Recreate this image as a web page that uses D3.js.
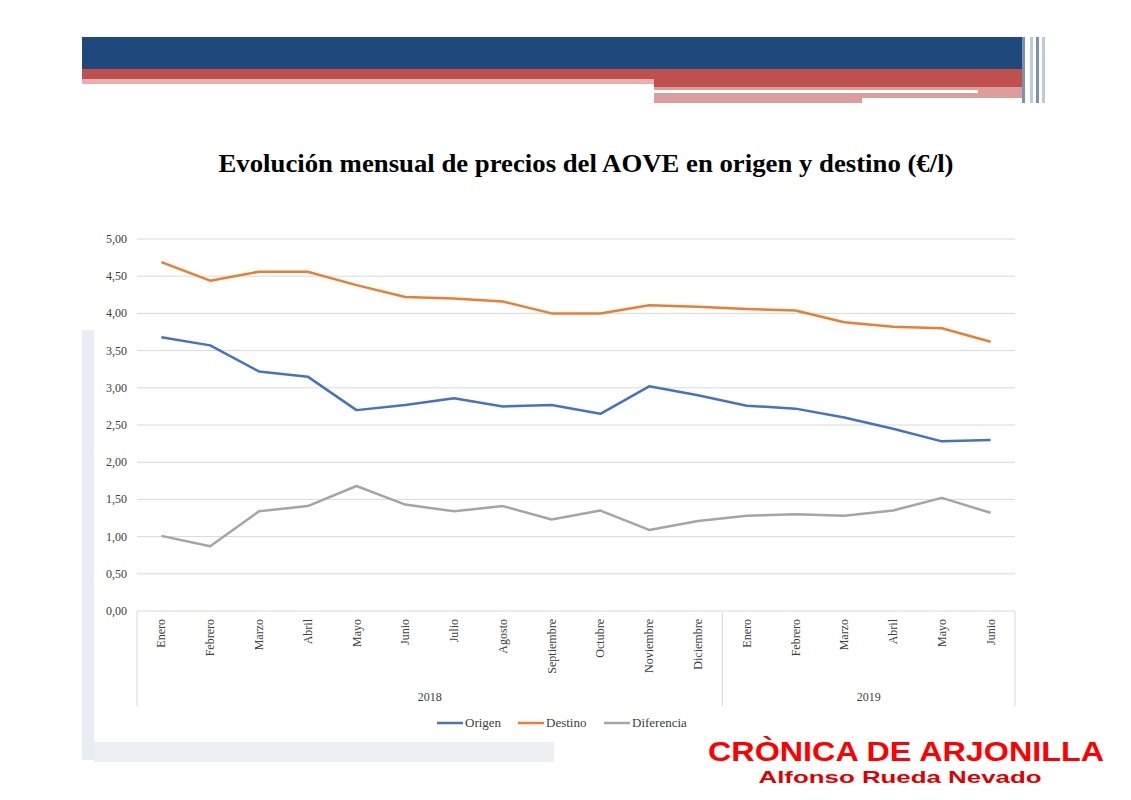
<!DOCTYPE html>
<html><head><meta charset="utf-8">
<script src="https://cdn.jsdelivr.net/npm/d3@7"></script>
<style>body{margin:0;background:#fff}svg{display:block}</style>
</head><body>
<svg id="chart" width="1131" height="800"></svg>
<script>
var months = ['Enero','Febrero','Marzo','Abril','Mayo','Junio','Julio','Agosto','Septiembre','Octubre','Noviembre','Diciembre','Enero','Febrero','Marzo','Abril','Mayo','Junio'];
var years = [{name: '2018', n: 12}, {name: '2019', n: 6}];
var origen = [3.68,3.57,3.22,3.15,2.70,2.77,2.86,2.75,2.77,2.65,3.02,2.90,2.76,2.72,2.60,2.45,2.28,2.30];
var destino = [4.69,4.44,4.56,4.56,4.38,4.22,4.20,4.16,4.00,4.00,4.11,4.09,4.06,4.04,3.88,3.82,3.80,3.62];
var diferencia = [1.01,0.87,1.34,1.41,1.68,1.43,1.34,1.41,1.23,1.35,1.09,1.21,1.28,1.30,1.28,1.35,1.52,1.32];
var yTicks = [0,0.5,1,1.5,2,2.5,3,3.5,4,4.5,5];

var series = [
    {name: 'Origen', values: origen, color: '#4472c4'},
    {name: 'Destino', values: destino, color: '#ed7d31'},
    {name: 'Diferencia', values: diferencia, color: '#a5a5a5'}
];

var svg = d3.select('#chart');
var serif = '"Liberation Serif", "Times New Roman", serif';

// header banner
svg.append('rect').attr('x', 82).attr('y', 37).attr('width', 940).attr('height', 32).attr('fill', '#1f497d');
svg.append('rect').attr('x', 82).attr('y', 69).attr('width', 940).attr('height', 10).attr('fill', '#c0504d');
svg.append('rect').attr('x', 82).attr('y', 79).attr('width', 572).attr('height', 5).attr('fill', '#e6b0b0');
svg.append('rect').attr('x', 654).attr('y', 79).attr('width', 368).attr('height', 8).attr('fill', '#c0504d');
svg.append('rect').attr('x', 654).attr('y', 87).attr('width', 368).attr('height', 16).attr('fill', '#dc9e9d');
svg.append('rect').attr('x', 654).attr('y', 90).attr('width', 324).attr('height', 3).attr('fill', '#fff');
svg.append('rect').attr('x', 862).attr('y', 98).attr('width', 160).attr('height', 6).attr('fill', '#fff');
[1022, 1030, 1036, 1042].forEach(function(x, i) {
    svg.append('rect').attr('x', x).attr('y', 37).attr('width', 3).attr('height', 66)
        .attr('fill', i % 2 ? '#8ea6c8' : '#1f497d').attr('opacity', 0.6);
});
// faint watermark
svg.append('rect').attr('x', 82).attr('y', 330).attr('width', 12).attr('height', 430).attr('fill', '#e8edf4');
svg.append('rect').attr('x', 94).attr('y', 742).attr('width', 460).attr('height', 20).attr('fill', '#edf1f6');

svg.append('text').attr('x', 586).attr('y', 172).attr('text-anchor', 'middle')
    .style('font-family', serif).style('font-size', '25px').style('font-weight', 'bold')
    .attr('textLength', 735).attr('lengthAdjust', 'spacingAndGlyphs')
    .text('Evolución mensual de precios del AOVE en origen y destino (€/l)');

var pLeft = 137, pRight = 1015, pTop = 239, pBottom = 611;
var x = d3.scaleBand().domain(d3.range(months.length)).range([pLeft, pRight]);
var y = d3.scaleLinear().domain([0, 5]).range([pBottom, pTop]);
var fmt = function(v) { return d3.format('.2f')(v).replace('.', ','); };

var g = svg.append('g');
g.selectAll('line.grid').data(yTicks).enter().append('line')
    .attr('x1', pLeft).attr('x2', pRight)
    .attr('y1', function(d) { return y(d); }).attr('y2', function(d) { return y(d); })
    .attr('stroke', '#d9d9d9').attr('stroke-width', 1);
g.selectAll('text.yt').data(yTicks).enter().append('text')
    .attr('x', 127).attr('y', function(d) { return y(d) + 4; })
    .attr('text-anchor', 'end').style('font-family', serif).style('font-size', '12px').attr('fill', '#404040')
    .text(fmt);

// category axis
g.selectAll('text.mt').data(months).enter().append('text')
    .attr('transform', function(d, i) { return 'translate(' + (x(i) + x.bandwidth() / 2 + 4) + ',' + (pBottom + 8) + ') rotate(-90)'; })
    .attr('text-anchor', 'end').style('font-family', serif).style('font-size', '12px').attr('fill', '#404040')
    .text(function(d) { return d; });
var pos = 0;
var bounds = [pLeft];
years.forEach(function(yr) {
    var x0 = x(pos), x1 = pos + yr.n < months.length ? x(pos + yr.n) : pRight;
    g.append('text').attr('x', (x0 + x1) / 2).attr('y', 701).attr('text-anchor', 'middle')
        .style('font-family', serif).style('font-size', '12px').attr('fill', '#404040').text(yr.name);
    pos += yr.n;
    bounds.push(x1);
});
g.selectAll('line.yb').data(bounds).enter().append('line')
    .attr('x1', function(d) { return d; }).attr('x2', function(d) { return d; })
    .attr('y1', pBottom).attr('y2', 706).attr('stroke', '#d9d9d9');

var line = d3.line().x(function(d, i) { return x(i) + x.bandwidth() / 2; }).y(function(d) { return y(d); });
series.forEach(function(s) {
    g.append('path').datum(s.values).attr('d', line).attr('fill', 'none')
        .attr('stroke', s.color).attr('stroke-width', 2.5).attr('stroke-linejoin', 'round');
});

// legend
var lx = [437, 518, 604];
series.forEach(function(s, i) {
    g.append('line').attr('x1', lx[i]).attr('x2', lx[i] + 26).attr('y1', 723).attr('y2', 723)
        .attr('stroke', s.color).attr('stroke-width', 2.5);
    g.append('text').attr('x', lx[i] + 28).attr('y', 727).style('font-family', serif).style('font-size', '13px')
        .attr('fill', '#404040').text(s.name);
});

// credit
var sans = '"Liberation Sans", Arial, sans-serif';
svg.append('text').attr('x', 906).attr('y', 761).attr('text-anchor', 'middle').attr('fill', '#ff0000')
    .style('font-family', sans).style('font-size', '28px').style('font-weight', 'bold')
    .attr('textLength', 396).attr('lengthAdjust', 'spacingAndGlyphs').text('CRÒNICA DE ARJONILLA');
svg.append('text').attr('x', 900).attr('y', 783).attr('text-anchor', 'middle').attr('fill', '#e00000')
    .style('font-family', sans).style('font-size', '17px').style('font-weight', 'bold')
    .attr('textLength', 283).attr('lengthAdjust', 'spacingAndGlyphs').text('Alfonso Rueda Nevado');
</script>
</body></html>
